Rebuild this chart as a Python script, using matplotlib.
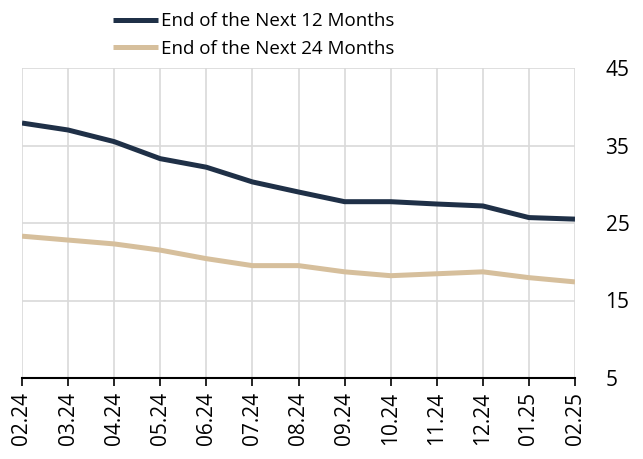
import numpy as np
import matplotlib.pyplot as plt

plt.rcParams['font.family'] = ['Open Sans', 'DejaVu Sans']

months = ['02.24', '03.24', '04.24', '05.24', '06.24', '07.24', '08.24',
          '09.24', '10.24', '11.24', '12.24', '01.25', '02.25']
next_12 = [37.9, 37.0, 35.5, 33.3, 32.2, 30.3, 29.0, 27.75, 27.75, 27.45, 27.2, 25.7, 25.5]
next_24 = [23.3, 22.8, 22.3, 21.5, 20.4, 19.5, 19.5, 18.7, 18.2, 18.45, 18.7, 17.95, 17.4]
yticks = [5, 15, 25, 35, 45]

navy = '#1f3047'
tan = '#d6bf9c'

fig = plt.figure(figsize=(6.43, 4.59), dpi=100)
ax = fig.add_axes([22 / 643, 1 - 378 / 459, (575 - 22) / 643, (378 - 68) / 459])

x = np.arange(len(months))
ax.plot(x, next_12, color=navy, lw=3.6, label='End of the Next 12 Months', solid_capstyle='butt')
ax.plot(x, next_24, color=tan, lw=3.6, label='End of the Next 24 Months', solid_capstyle='butt')

ax.set_xlim(0, len(months) - 1)
ax.set_ylim(5, 45)
ax.set_xticks(x)
ax.set_xticklabels(months, rotation=90, fontsize=15)
ax.set_yticks(yticks)
ax.set_yticklabels([str(v) for v in yticks], fontsize=15)
ax.yaxis.tick_right()
ax.tick_params(axis='y', length=0, pad=22)
ax.tick_params(axis='x', length=6, width=1.2, color='black', pad=4)

ax.grid(True, color='#d9d9d9', lw=1.2)
ax.set_axisbelow(True)
for s in ['top', 'left', 'right']:
    ax.spines[s].set_visible(False)
ax.spines['bottom'].set_color('black')
ax.spines['bottom'].set_linewidth(1.5)
ax.spines['bottom'].set_zorder(3)

fig.legend(loc='upper left', bbox_to_anchor=(102 / 643, 1 - 1 / 459), frameon=False,
           fontsize=13.5, handlelength=2.4, handletextpad=0.15, labelspacing=0.5,
           borderaxespad=0.2)

fig.savefig('out.png', dpi=100)
